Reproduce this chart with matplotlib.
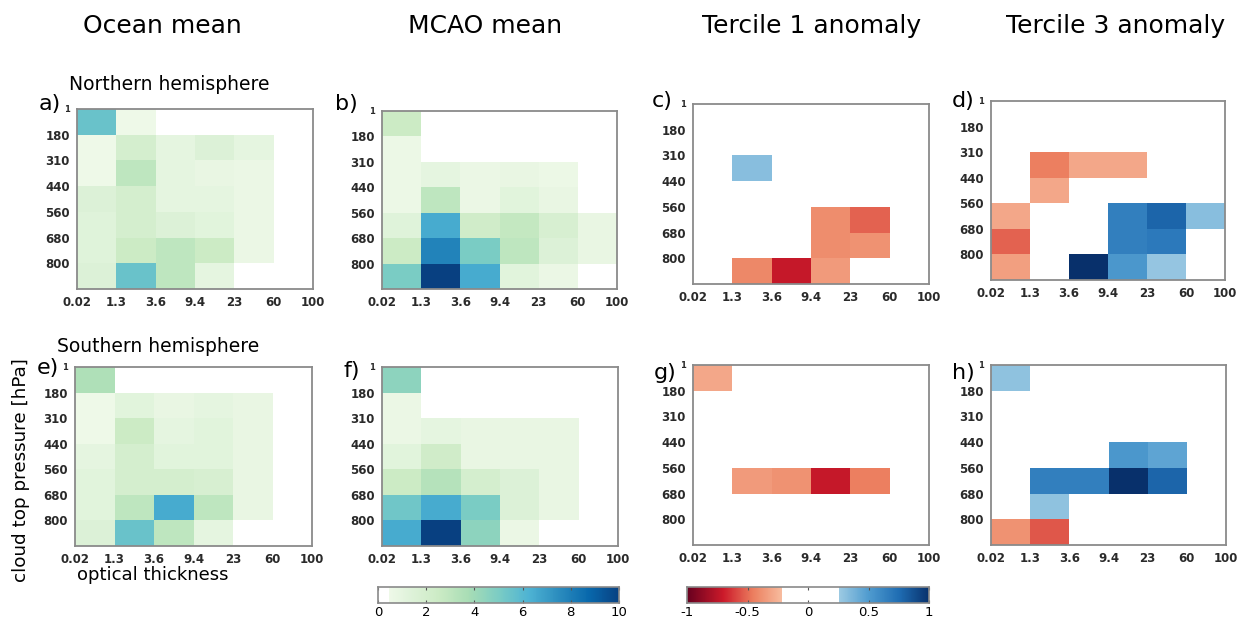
import numpy as np
import matplotlib
matplotlib.use("Agg")
import matplotlib.pyplot as plt
from matplotlib.colors import ListedColormap, LinearSegmentedColormap, Normalize

# ---------------- data ----------------
tau_labels = ["0.02", "1.3", "3.6", "9.4", "23", "60", "100"]
ctp_labels = ["1", "180", "310", "440", "560", "680", "800"]
col_titles = ["Ocean mean", "MCAO mean", "Tercile 1 anomaly", "Tercile 3 anomaly"]
panel_letters = ["a)", "b)", "c)", "d)", "e)", "f)", "g)", "h)"]

# rows: top (1-180 hPa) to bottom (800-1000 hPa); columns: optical thickness bins
ocean_nh = [
    [5.5, 0.5, 0.0, 0.0, 0.0, 0.0],
    [0.5, 2.0, 1.0, 1.5, 1.0, 0.0],
    [0.5, 3.0, 1.0, 0.8, 0.7, 0.0],
    [1.5, 2.0, 1.0, 1.0, 0.7, 0.0],
    [1.3, 2.0, 1.5, 1.2, 0.7, 0.0],
    [1.3, 2.5, 3.0, 2.5, 0.7, 0.0],
    [1.5, 5.5, 3.0, 1.0, 0.0, 0.0],
]
mcao_nh = [
    [2.5, 0.0, 0.0, 0.0, 0.0, 0.0],
    [0.6, 0.0, 0.0, 0.0, 0.0, 0.0],
    [0.6, 1.0, 0.7, 0.8, 0.6, 0.0],
    [0.6, 3.0, 0.7, 1.2, 0.8, 0.0],
    [1.3, 6.5, 2.3, 2.8, 1.8, 0.8],
    [2.5, 7.8, 5.0, 3.0, 1.5, 0.8],
    [5.0, 10.0, 6.5, 1.2, 0.7, 0.0],
]
t1_nh = [
    [0.0, 0.0, 0.0, 0.0, 0.0, 0.0],
    [0.0, 0.0, 0.0, 0.0, 0.0, 0.0],
    [0.0, 0.32, 0.0, 0.0, 0.0, 0.0],
    [0.0, 0.0, 0.0, 0.0, 0.0, 0.0],
    [0.0, 0.0, 0.0, -0.4, -0.52, 0.0],
    [0.0, 0.0, 0.0, -0.4, -0.38, 0.0],
    [0.0, -0.42, -0.72, -0.35, 0.0, 0.0],
]
t3_nh = [
    [0.0, 0.0, 0.0, 0.0, 0.0, 0.0],
    [0.0, 0.0, 0.0, 0.0, 0.0, 0.0],
    [0.0, -0.45, -0.3, -0.3, 0.0, 0.0],
    [0.0, -0.3, 0.0, 0.0, 0.0, 0.0],
    [-0.3, 0.0, 0.0, 0.65, 0.78, 0.32],
    [-0.52, 0.0, 0.0, 0.65, 0.68, 0.0],
    [-0.33, 0.0, 1.0, 0.52, 0.28, 0.0],
]
ocean_sh = [
    [3.5, 0.0, 0.0, 0.0, 0.0, 0.0],
    [0.5, 1.2, 0.8, 1.0, 0.8, 0.0],
    [0.5, 2.5, 1.0, 1.2, 0.8, 0.0],
    [1.0, 2.0, 1.2, 1.2, 0.8, 0.0],
    [1.2, 2.0, 2.0, 1.8, 0.8, 0.0],
    [1.2, 3.0, 6.5, 3.0, 0.8, 0.0],
    [1.5, 5.5, 3.0, 1.0, 0.0, 0.0],
]
mcao_sh = [
    [4.5, 0.0, 0.0, 0.0, 0.0, 0.0],
    [0.7, 0.0, 0.0, 0.0, 0.0, 0.0],
    [0.7, 1.0, 0.8, 0.8, 0.8, 0.0],
    [1.2, 2.3, 0.8, 0.8, 0.8, 0.0],
    [2.5, 3.3, 2.0, 1.5, 0.8, 0.0],
    [5.3, 6.5, 5.0, 1.5, 0.8, 0.0],
    [6.5, 10.0, 4.5, 0.7, 0.0, 0.0],
]
t1_sh = [
    [-0.3, 0.0, 0.0, 0.0, 0.0, 0.0],
    [0.0, 0.0, 0.0, 0.0, 0.0, 0.0],
    [0.0, 0.0, 0.0, 0.0, 0.0, 0.0],
    [0.0, 0.0, 0.0, 0.0, 0.0, 0.0],
    [0.0, -0.35, -0.38, -0.72, -0.45, 0.0],
    [0.0, 0.0, 0.0, 0.0, 0.0, 0.0],
    [0.0, 0.0, 0.0, 0.0, 0.0, 0.0],
]
t3_sh = [
    [0.3, 0.0, 0.0, 0.0, 0.0, 0.0],
    [0.0, 0.0, 0.0, 0.0, 0.0, 0.0],
    [0.0, 0.0, 0.0, 0.0, 0.0, 0.0],
    [0.0, 0.0, 0.0, 0.52, 0.45, 0.0],
    [0.0, 0.65, 0.65, 1.0, 0.78, 0.0],
    [0.0, 0.3, 0.0, 0.0, 0.0, 0.0],
    [-0.38, -0.55, 0.0, 0.0, 0.0, 0.0],
]
mean_ticks = [0, 2, 4, 6, 8, 10]
anom_ticks = [-1, -0.5, 0, 0.5, 1]
anom_tick_labels = ["-1", "-0.5", "0", "0.5", "1"]

# ---------------- colormaps ----------------
gnbu = plt.get_cmap("GnBu")(np.linspace(0, 1, 256))
gnbu[:12] = [1, 1, 1, 1]
mean_cmap = ListedColormap(gnbu)

def anom_node(v):
    return (v + 1) / 2

anom_cmap = LinearSegmentedColormap.from_list("anom", [
    (anom_node(-1.0), "#67001f"),
    (anom_node(-0.7), "#cc1a2a"),
    (anom_node(-0.45), "#ec8060"),
    (anom_node(-0.22), "#f7bb9e"),
    (anom_node(-0.219), "#ffffff"),
    (anom_node(0.25), "#ffffff"),
    (anom_node(0.251), "#9ecbe3"),
    (anom_node(0.5), "#4f9bcf"),
    (anom_node(0.75), "#1f6db3"),
    (anom_node(1.0), "#08306b"),
], N=512)

mean_norm = Normalize(0, 10)
anom_norm = Normalize(-1, 1)

# ---------------- layout ----------------
W, H = 1239, 623
fig = plt.figure(figsize=(W / 100, H / 100), dpi=100)
fig.patch.set_facecolor("white")

def rect(l, t, r, b):
    return [l / W, 1 - b / H, (r - l) / W, (b - t) / H]

panel_boxes = [
    (77, 109, 313, 289), (382, 111, 617, 289), (693, 104, 929, 284), (991, 101, 1225, 280),
    (75, 367, 312, 546), (382, 367, 618, 546), (693, 365, 929, 545), (991, 365, 1226, 545),
]
letter_pos = [(50, 104), (346, 104), (662, 101), (963, 101),
              (48, 368), (352, 371), (665, 373), (963, 373)]

datasets = [ocean_nh, mcao_nh, t1_nh, t3_nh, ocean_sh, mcao_sh, t1_sh, t3_sh]
spine_col = "#8a8a8a"

for i, (data, box) in enumerate(zip(datasets, panel_boxes)):
    ax = fig.add_axes(rect(*box))
    arr = np.array(data, dtype=float)
    is_mean = (i % 4) < 2
    cmap = mean_cmap if is_mean else anom_cmap
    norm = mean_norm if is_mean else anom_norm
    xe = np.arange(arr.shape[1] + 1)
    ye = np.arange(arr.shape[0] + 1)
    ax.pcolormesh(xe, ye, arr, cmap=cmap, norm=norm, shading="flat")
    ax.set_xlim(0, arr.shape[1])
    ax.set_ylim(arr.shape[0], 0)
    ax.set_xticks(np.arange(len(tau_labels)))
    ax.set_xticklabels(tau_labels)
    ax.set_yticks(np.arange(len(ctp_labels)))
    ax.set_yticklabels(ctp_labels)
    ax.tick_params(length=0, labelsize=8.5, pad=5)
    for lab in ax.get_xticklabels() + ax.get_yticklabels():
        lab.set_fontweight("bold")
        lab.set_color("#2a2a2a")
    ax.get_yticklabels()[0].set_fontsize(6)
    for sp in ax.spines.values():
        sp.set_color(spine_col)
        sp.set_linewidth(1.3)
    fig.text(letter_pos[i][0] / W, 1 - letter_pos[i][1] / H, panel_letters[i],
             fontsize=16, ha="center", va="center")

# column titles
title_x = [162, 485, 812, 1116]
for t, x in zip(col_titles, title_x):
    fig.text(x / W, 1 - 26 / H, t, fontsize=18, ha="center", va="center")

fig.text(169 / W, 1 - 85 / H, "Northern hemisphere", fontsize=13.5, ha="center", va="center")
fig.text(158 / W, 1 - 347 / H, "Southern hemisphere", fontsize=13.5, ha="center", va="center")
fig.text(21 / W, 1 - 470 / H, "cloud top pressure [hPa]", fontsize=13.2, rotation=90,
         ha="center", va="center")
fig.text(153 / W, 1 - 575 / H, "optical thickness", fontsize=13, ha="center", va="center")

# colorbars
def draw_cbar(box, cmap, norm, ticks, labels):
    cax = fig.add_axes(rect(*box))
    vals = np.linspace(norm.vmin, norm.vmax, 512)
    cax.pcolormesh(vals, [0, 1], vals[None, :-1], cmap=cmap, norm=norm, shading="flat")
    cax.set_xlim(norm.vmin, norm.vmax)
    cax.set_ylim(0, 1)
    cax.set_yticks([])
    cax.set_xticks(ticks)
    cax.set_xticklabels(labels)
    cax.tick_params(axis="x", direction="in", length=2.5, width=0.8, color="#555555",
                    top=True, labelsize=9.5, pad=2)
    for sp in cax.spines.values():
        sp.set_color(spine_col)
        sp.set_linewidth(1.2)

draw_cbar((378, 587, 619, 603), mean_cmap, mean_norm, mean_ticks, [str(t) for t in mean_ticks])
draw_cbar((687, 587, 929, 603), anom_cmap, anom_norm, anom_ticks, anom_tick_labels)

fig.savefig("out.png", dpi=100, facecolor="white")
